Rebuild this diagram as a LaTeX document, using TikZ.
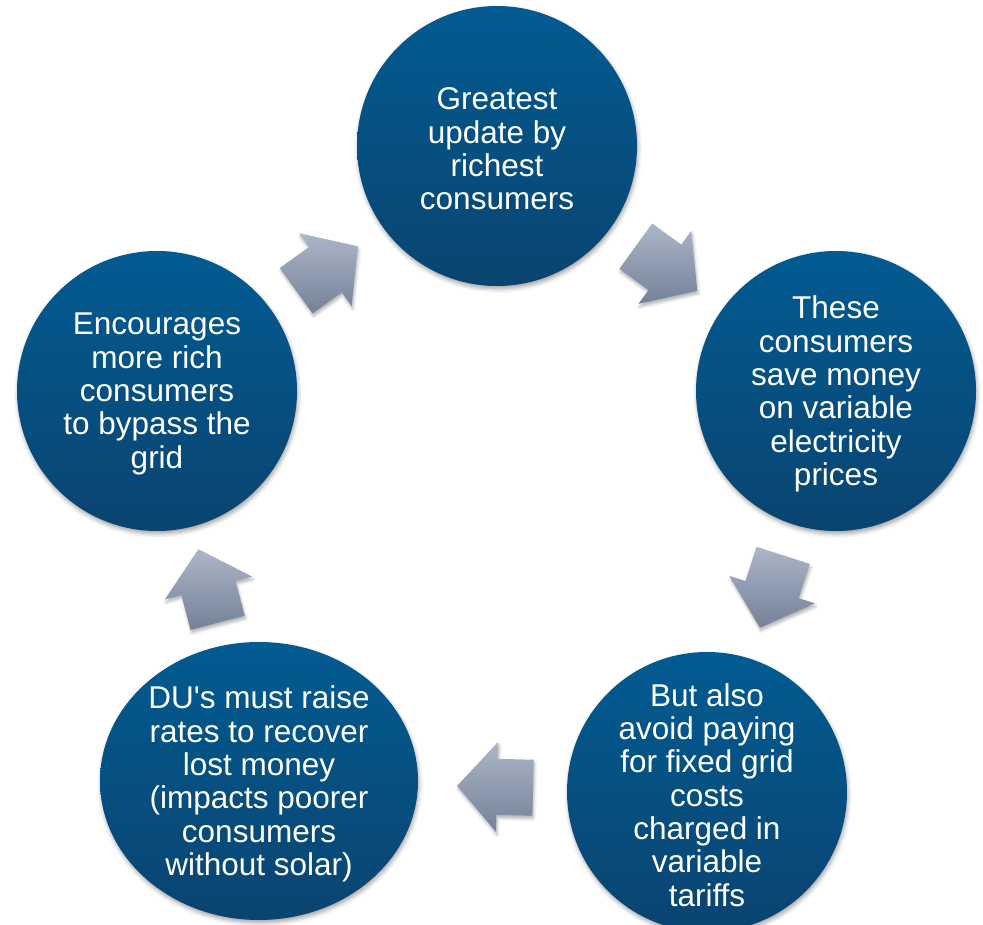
\documentclass[tikz,border=0pt]{standalone}
\usepackage{fontspec}
\setmainfont{Liberation Sans}[Ligatures=TeXOff]
\usetikzlibrary{calc,shapes.geometric,shadows.blur}
\definecolor{circtop}{RGB}{2,91,146}
\definecolor{circbot}{RGB}{10,68,112}
\definecolor{arrtop}{RGB}{172,182,199}
\definecolor{arrbot}{RGB}{116,129,152}
\tikzset{
  bubble/.style={circle, minimum size=280pt, inner sep=0pt, draw=none,
    top color=circtop, bottom color=circbot,
    blur shadow={shadow xshift=1pt, shadow yshift=-3pt, shadow blur radius=4pt, shadow opacity=35}},
  ovalbubble/.style={bubble, ellipse, minimum width=318pt, minimum height=278pt},
  bubbletext/.style={text=white, align=center, inner sep=0pt, yshift=-3pt,
    font=\fontsize{31.5}{33.3}\selectfont},
  arrowfill/.style={top color=arrtop, bottom color=arrbot, draw=none,
    blur shadow={shadow xshift=1pt, shadow yshift=-3pt, shadow blur radius=3pt, shadow opacity=30}}
}
\newcommand\blockarrow[3]{%
  \coordinate (am) at ($(#1)!#3!(#2)$);
  \coordinate (atl) at ($(am)!-38pt!(#2)$);
  \coordinate (ahb) at ($(am)!-2pt!(#2)$);
  \coordinate (atip) at ($(am)!38pt!(#2)$);
  \path[arrowfill] ($(atl)!28pt!90:(#2)$) -- ($(ahb)!28pt!90:(#2)$) -- ($(ahb)!45pt!90:(#2)$)
    -- (atip) -- ($(ahb)!45pt!-90:(#2)$) -- ($(ahb)!28pt!-90:(#2)$) -- ($(atl)!28pt!-90:(#2)$) -- cycle;
}
\begin{document}
\begin{tikzpicture}[x=1pt,y=-1pt]
\useasboundingbox (0,0) rectangle (983,925);
\node[bubble] (c1) at (497,146) {};
\node[bubble] (c2) at (836,391) {};
\node[bubble] (c3) at (707,792) {};
\node[ovalbubble] (c4) at (259,781) {};
\node[bubble] (c5) at (157,391) {};
\node[bubbletext] (t1) at (c1) {Greatest\\update by\\richest\\consumers};
\node[bubbletext] (t2) at (c2) {These\\consumers\\save money\\on variable\\electricity\\prices};
\node[bubbletext] (t3) at (c3) {But also\\avoid paying\\for fixed grid\\costs\\charged in\\variable\\tariffs};
\node[bubbletext] (t4) at (c4) {DU's must raise\\rates to recover\\lost money\\(impacts poorer\\consumers\\without solar)};
\node[bubbletext] (t5) at (c5) {Encourages\\more rich\\consumers\\to bypass the\\grid};
\blockarrow{c5}{c1}{0.5}
\blockarrow{c1}{c2}{0.5}
\blockarrow{c2}{c3}{0.5}
\blockarrow{c3}{c4}{0.473}
\blockarrow{c4}{c5}{0.5}
\end{tikzpicture}
\end{document}
